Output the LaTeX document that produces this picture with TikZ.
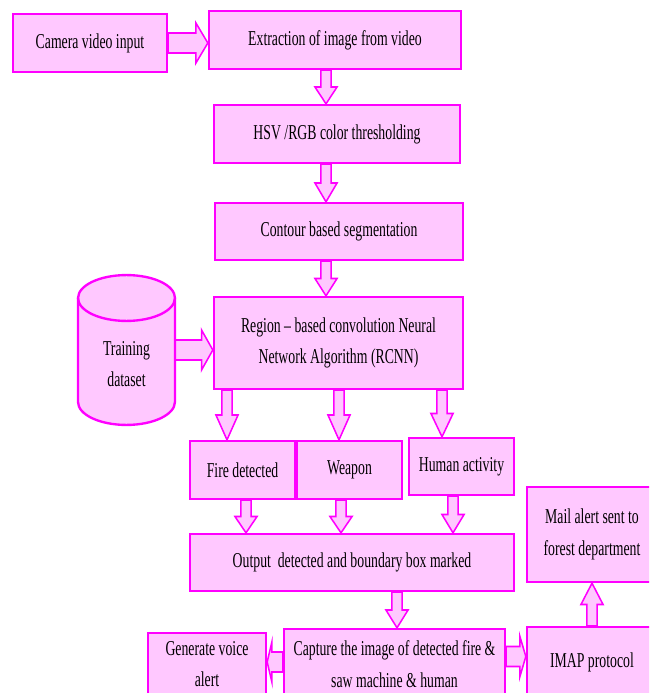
\documentclass[tikz,border=0pt]{standalone}
\usepackage{fontspec}
\setmainfont[FakeStretch=0.65]{Liberation Serif}
\usepackage{tikz}
\usetikzlibrary{calc}
\definecolor{mag}{RGB}{255,0,255}
\definecolor{pinkfill}{RGB}{255,200,255}

\begin{document}
\begin{tikzpicture}[
        x=0.85pt, y=-0.85pt,
        box/.style 2 args={rectangle, draw=mag, fill=pinkfill, line width=2pt,
            minimum width=#1*0.85pt, minimum height=#2*0.85pt, align=center,
            inner sep=2pt, font=\fontsize{18}{27}\selectfont},
        vfat/.style={draw=mag, fill=pinkfill, line width=1.3pt, to path={
            let \p1=(\tikztostart), \p2=(\tikztotarget), \n1={\y1+0.5*(\y2-\y1)} in
            (\x1-4.3pt,\y1) -- (\x1-4.3pt,\n1) -- (\x1-9.4pt,\n1) -- (\x2,\y2)
            -- (\x1+9.4pt,\n1) -- (\x1+4.3pt,\n1) -- (\x1+4.3pt,\y1) -- cycle}},
        hfat/.style={draw=mag, fill=pinkfill, line width=1.3pt, to path={
            let \p1=(\tikztostart), \p2=(\tikztotarget), \n1={\x1+0.7*(\x2-\x1)} in
            (\x1,\y1-8.5pt) -- (\n1,\y1-8.5pt) -- (\n1,\y1-17pt) -- (\x2,\y2)
            -- (\n1,\y1+17pt) -- (\n1,\y1+8.5pt) -- (\x1,\y1+8.5pt) -- cycle}}
    ]
        \useasboundingbox (0,0) rectangle (649,693);
        \clip (0,0) rectangle (649,693);

        % Các khối chính
        \node[box={154}{58}] (cam) at (90,43) {Camera video input};
        \node[box={252}{58}] (extract) at (335,40) {Extraction of image from video};
        \node[box={246}{58}] (hsv) at (337,134) {HSV /RGB color thresholding};
        \node[box={248}{57}] (contour) at (339,231.5) {Contour based segmentation};
        \node[box={249}{92}] (rcnn) at (338.5,343) {Region -- based convolution Neural\\Network Algorithm (RCNN)};
        \node[box={105}{58}] (fire) at (242.5,470) {Fire detected};
        \node[box={105}{58}] (weapon) at (349.5,470) {Weapon};
        \node[box={105}{57}] (human) at (461.5,466.5) {Human activity};
        \node[box={324}{57}] (output) at (352,562.5) {Output\ \ detected and boundary box marked};
        \node[box={130}{95}] (mail) at (592,534.5) {Mail alert sent to\\forest department};
        \node[box={221}{70}] (capture) at (394.5,664) {Capture the image of detected fire \&\\saw machine \& human};
        \node[box={118}{62}] (voice) at (207,664) {Generate voice\\alert};
        \node[box={130}{70}] (imap) at (592,662) {IMAP protocol};

        % Hình trụ dữ liệu
        \node[minimum width=97*0.85pt, minimum height=150*0.85pt] (train) at (126.5,350) {};
        \draw[draw=mag, fill=pinkfill, line width=2pt] (78,298) -- (78,402)
            arc[start angle=180, end angle=360, x radius=41.2pt, y radius=19.5pt] -- (175,298)
            arc[start angle=0, end angle=180, x radius=41.2pt, y radius=19.5pt] -- cycle;
        \draw[mag, line width=2pt] (78,298) arc[start angle=180, end angle=360, x radius=41.2pt, y radius=19.5pt];
        \node[align=center, font=\fontsize{18}{27}\selectfont] (trainlbl) at (126.5,364) {Training\\dataset};

        % Các mũi tên
        \coordinate (spine) at (326,0);
        \coordinate (b1) at (227,0);
        \coordinate (b2) at (339,0);
        \coordinate (b3) at (442,0);
        \coordinate (m1) at (246,0);
        \coordinate (m2) at (341,0);
        \coordinate (m3) at (453,0);
        \coordinate (m4) at (397,0);
        \coordinate (r1) at (0,662);
        \coordinate (r2) at (0,656.5);

        \draw[hfat] (cam.east) to (cam.east -| extract.west);
        \draw[vfat] (extract.south -| spine) to (hsv.north -| spine);
        \draw[vfat] (hsv.south -| spine) to (contour.north -| spine);
        \draw[vfat] (contour.south -| spine) to (rcnn.north -| spine);
        \draw[hfat] (train.east) to (train.east -| rcnn.west);
        \draw[vfat] (rcnn.south -| b1) to (fire.north -| b1);
        \draw[vfat] (rcnn.south -| b2) to (weapon.north -| b2);
        \draw[vfat] (rcnn.south -| b3) to (human.north -| b3);
        \draw[vfat] (fire.south -| m1) to (output.north -| m1);
        \draw[vfat] (weapon.south -| m2) to (output.north -| m2);
        \draw[vfat] (human.south -| m3) to (output.north -| m3);
        \draw[vfat] (output.south -| m4) to (capture.north -| m4);
        \draw[hfat] (capture.west |- r1) to (voice.east |- r1);
        \draw[hfat] (capture.east |- r2) to (imap.west |- r2);
        \draw[vfat] (imap.north) to (mail.south);
    \end{tikzpicture}
\end{document}
